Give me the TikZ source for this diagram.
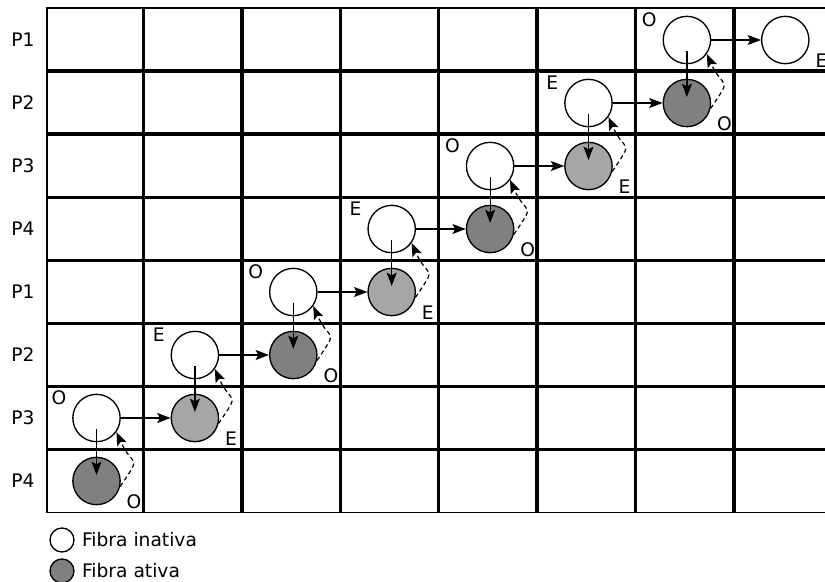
\documentclass[tikz,border=0pt]{standalone}
\usepackage{fontspec}
\setmainfont{DejaVu Sans}
\usepackage{xcolor}
\usetikzlibrary{arrows.meta, positioning}
\definecolor{escuro}{RGB}{128,128,128}
\definecolor{claro}{RGB}{166,166,166}

\begin{document}
\begin{tikzpicture}[
        x=0.75pt, y=0.75pt,
        font=\fontsize{14}{16}\selectfont,
        fibra/.style={circle, draw=black, line width=1pt, minimum size=35.5pt, inner sep=0pt},
        inativa/.style={fibra, fill=white},
        ativa/.style={fibra, fill=escuro},
        ativaclara/.style={fibra, fill=claro},
        lbl/.style={label distance=2pt},
        seta/.style={-{Stealth[length=10pt, width=7.5pt, inset=2pt]}, line width=0.9pt},
        volta/.style={seta, dash pattern=on 3.2pt off 2.4pt}
    ]
        \useasboundingbox (0,0) rectangle (825,-582);

        % grade
        \foreach \x in {143.5, 241.9, 340.3, 438.7, 537.1, 635.5, 733.9}
            \draw[line width=2.6pt] (\x,-8) -- (\x,-512.7);
        \foreach \y in {71.1, 134.2, 197.3, 260.4, 323.5, 386.6, 449.6}
            \draw[line width=2.6pt] (47,-\y) -- (825,-\y);
        \draw[line width=0.9pt] (825,-8) -- (47,-8) -- (47,-512.7) -- (825,-512.7);

        % processos
        \node (p1a) at (23,-40) {P1};
        \node (p2a) at (23,-103) {P2};
        \node (p3a) at (23,-166) {P3};
        \node (p4a) at (23,-229) {P4};
        \node (p1b) at (23,-292) {P1};
        \node (p2b) at (23,-355) {P2};
        \node (p3b) at (23,-418) {P3};
        \node (p4b) at (23,-481) {P4};

        % fibras
        \node[inativa, label={[lbl]161:O}] (w1) at (686.9,-40) {};
        \node[inativa, label={[lbl]-19:E}] (c1) at (785.3,-40) {};
        \node[inativa, label={[lbl]161:E}] (w2) at (588.5,-103) {};
        \node[ativa, label={[lbl]-19:O}] (c2) at (686.9,-103) {};
        \node[inativa, label={[lbl]161:O}] (w3) at (490.1,-166) {};
        \node[ativaclara, label={[lbl]-19:E}] (c3) at (588.5,-166) {};
        \node[inativa, label={[lbl]161:E}] (w4) at (391.7,-229) {};
        \node[ativa, label={[lbl]-19:O}] (c4) at (490.1,-229) {};
        \node[inativa, label={[lbl]161:O}] (w5) at (293.3,-292) {};
        \node[ativaclara, label={[lbl]-19:E}] (c5) at (391.7,-292) {};
        \node[inativa, label={[lbl]161:E}] (w6) at (194.9,-355) {};
        \node[ativa, label={[lbl]-19:O}] (c6) at (293.3,-355) {};
        \node[inativa, label={[lbl]161:O}] (w7) at (96.5,-418) {};
        \node[ativaclara, label={[lbl]-19:E}] (c7) at (194.9,-418) {};
        \node[ativa, label={[lbl]-19:O}] (c8) at (96.5,-481) {};

        \foreach \k/\n in {1/2, 2/3, 3/4, 4/5, 5/6, 6/7, 7/8} {
            \draw[seta] (w\k) -- (c\k);
            \draw[seta, shorten <=8.25pt, shorten >=4.5pt] (w\k.center) -- (c\n.center);
            \draw[volta] (c\n.-13) to[out=56, in=-66, looseness=1.9] (w\k.-35);
        }

        % legenda
        \node[inativa, minimum size=18pt] (leg1) at (62,-540) {};
        \node[right=2pt of leg1] (leg1t) {Fibra inativa};
        \node[ativa, minimum size=18pt] (leg2) at (62,-571) {};
        \node[right=2pt of leg2] (leg2t) {Fibra ativa};
    \end{tikzpicture}
\end{document}
